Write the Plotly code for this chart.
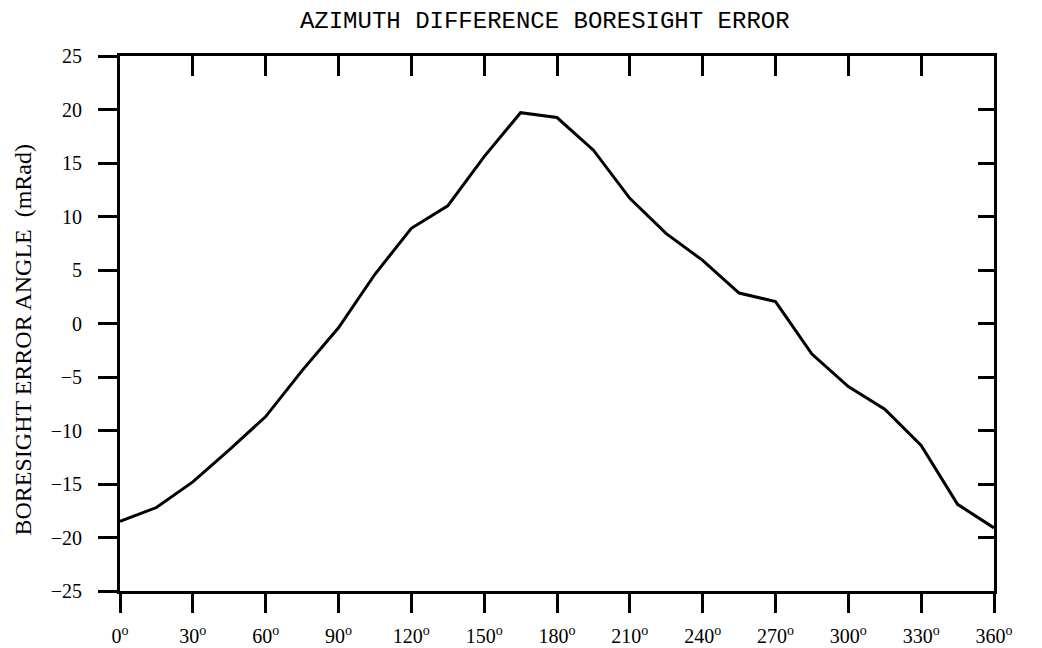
import plotly.graph_objects as go

azimuth_deg = [0, 15, 30, 45, 60, 75, 90, 105, 120, 135, 150, 165, 180, 195,
               210, 225, 240, 255, 270, 285, 300, 315, 330, 345, 360]
error_mrad = [-18.5, -17.2, -14.8, -11.8, -8.7, -4.4, -0.4, 4.6, 8.9, 11.0,
              15.6, 19.7, 19.25, 16.2, 11.7, 8.4, 5.9, 2.85, 2.05, -2.85,
              -5.9, -8.0, -11.4, -16.9, -19.1]

x_ticks = [0, 30, 60, 90, 120, 150, 180, 210, 240, 270, 300, 330, 360]
x_ticktext = [f"{v}<sup>o</sup>" for v in x_ticks]
y_ticks = [-25, -20, -15, -10, -5, 0, 5, 10, 15, 20, 25]
y_ticktext = [str(v).replace("-", "\u2212") for v in y_ticks]

title_text = "AZIMUTH DIFFERENCE BORESIGHT ERROR"
ytitle_text = "BORESIGHT ERROR ANGLE  (mRad)"

serif = "Liberation Serif, Times New Roman, serif"

fig = go.Figure()
fig.add_trace(go.Scatter(x=azimuth_deg, y=error_mrad, mode="lines",
                         line=dict(color="black", width=3), showlegend=False))
fig.add_trace(go.Scatter(x=[0], y=[0], xaxis="x2", yaxis="y2", mode="markers",
                         marker=dict(opacity=0), showlegend=False, hoverinfo="skip"))

fig.update_layout(
    width=1034, height=640,
    paper_bgcolor="white", plot_bgcolor="white",
    margin=dict(l=112, r=48, t=48, b=57),
    title=dict(text=title_text, xref="paper", x=0.486, xanchor="center",
               yref="container", y=0.982, yanchor="middle",
               font=dict(family="Liberation Mono, monospace", size=24, color="black")),
    xaxis=dict(range=[0, 360], tickvals=x_ticks, ticktext=x_ticktext,
               ticks="outside", ticklen=19, tickwidth=3, tickcolor="black",
               showline=True, linewidth=3, linecolor="black", showgrid=False,
               zeroline=False, ticklabelstandoff=6, automargin=False,
               tickfont=dict(family=serif, size=20, color="black")),
    yaxis=dict(range=[-25, 25], tickvals=y_ticks, ticktext=y_ticktext,
               ticks="outside", ticklen=19, tickwidth=3, tickcolor="black",
               showline=True, linewidth=3, linecolor="black", showgrid=False,
               zeroline=False, ticklabelstandoff=12, automargin=False,
               tickfont=dict(family=serif, size=20, color="black")),
    xaxis2=dict(range=[0, 360], overlaying="x", side="top", tickvals=x_ticks[1:-1],
                ticks="inside", ticklen=20, tickwidth=3, tickcolor="black",
                showticklabels=False, showline=True, linewidth=3, linecolor="black",
                showgrid=False, zeroline=False),
    yaxis2=dict(range=[-25, 25], overlaying="y", side="right", tickvals=y_ticks[1:-1],
                ticks="inside", ticklen=16, tickwidth=3, tickcolor="black",
                showticklabels=False, showline=True, linewidth=3, linecolor="black",
                showgrid=False, zeroline=False),
    annotations=[
        dict(text=ytitle_text, xref="paper", yref="paper", x=-97 / 874, y=0.47,
             xanchor="center", yanchor="middle", textangle=-90, showarrow=False,
             font=dict(family=serif, size=24, color="black")),
    ],
)

fig.write_html("out.html")
